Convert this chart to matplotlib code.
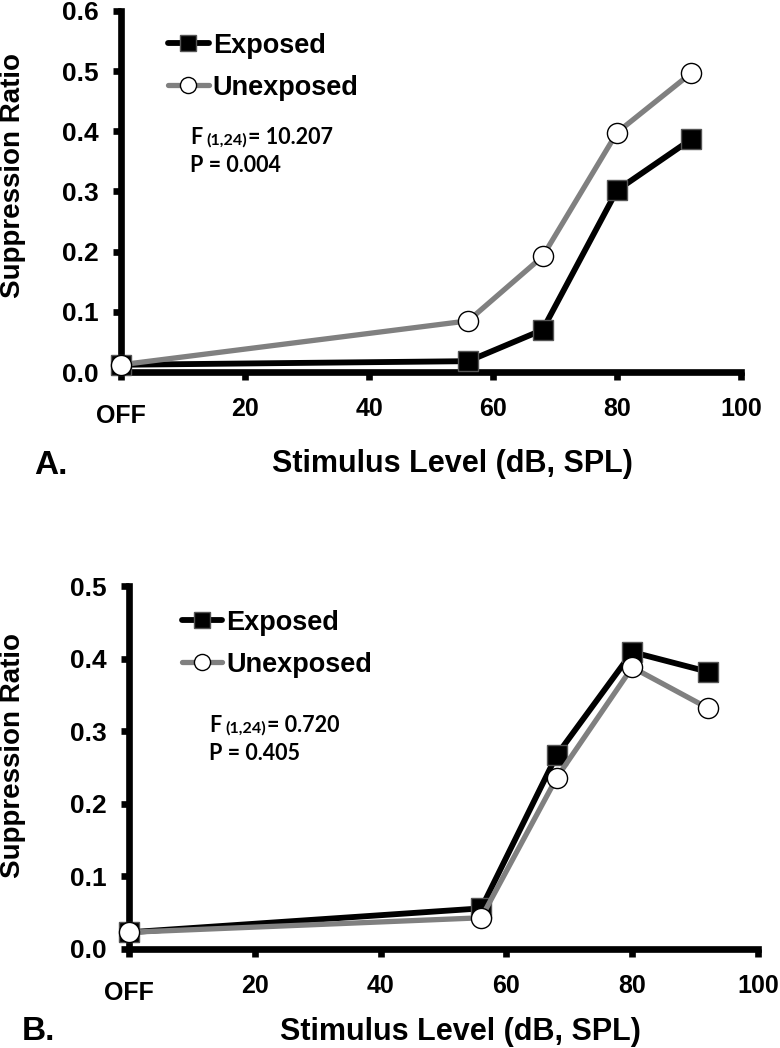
import matplotlib
matplotlib.use("Agg")
import matplotlib.pyplot as plt
from matplotlib.transforms import ScaledTranslation

# stimulus levels (dB SPL); 0 is the "OFF" condition
levels = [0, 56, 68, 80, 92]

a_exposed = [0.012, 0.018, 0.070, 0.302, 0.387]
a_unexposed = [0.012, 0.085, 0.192, 0.398, 0.497]
b_exposed = [0.023, 0.056, 0.267, 0.409, 0.382]
b_unexposed = [0.023, 0.043, 0.236, 0.388, 0.332]

x_ticks = [0, 20, 40, 60, 80, 100]
x_ticklabels = ["OFF", "20", "40", "60", "80", "100"]
a_yticks = [0.0, 0.1, 0.2, 0.3, 0.4, 0.5, 0.6]
b_yticks = [0.0, 0.1, 0.2, 0.3, 0.4, 0.5]

a_stats = ("F", "(1,24)", "= 10.207", "P = 0.004")
b_stats = ("F", "(1,24)", "= 0.720", "P = 0.405")

ARIAL = ["Liberation Sans", "DejaVu Sans"]
NARROW = ["Liberation Sans Narrow", "Liberation Sans", "DejaVu Sans"]
CALIBRI = ["Lato", "DejaVu Sans"]
GREY = "#808080"
SPINE = 4.8


def panel(ax, exposed, unexposed, yticks, stats, leg_anchor, stat_pos):
    ax.plot(levels, exposed, color="black", lw=4.2, marker="s", ms=14.5,
            mfc="black", mec="#555555", mew=1.0, clip_on=False, label="Exposed",
            zorder=3, solid_capstyle="round")
    ax.plot(levels, unexposed, color=GREY, lw=3.8, marker="o", ms=14.5,
            mfc="white", mec="black", mew=1.0, clip_on=False, label="Unexposed",
            zorder=4, solid_capstyle="round")

    ax.set_xlim(0, 100)
    ax.set_ylim(0, yticks[-1])
    for side in ("top", "right"):
        ax.spines[side].set_visible(False)
    for side in ("left", "bottom"):
        ax.spines[side].set_linewidth(SPINE)
        ax.spines[side].set_capstyle("projecting")
    ax.tick_params(direction="out", length=6, width=SPINE, color="black")
    ax.tick_params(axis="x", pad=12)
    ax.tick_params(axis="y", pad=10)

    ax.set_xticks(x_ticks)
    ax.set_xticklabels(x_ticklabels, family=NARROW, fontweight="bold", fontsize=18)
    ax.set_yticks(yticks)
    ax.set_yticklabels([f"{v:.1f}" for v in yticks], family=ARIAL,
                       fontweight="bold", fontsize=19)
    off = ax.get_xticklabels()[0]
    off.set_transform(off.get_transform()
                      + ScaledTranslation(0, -0.07, ax.figure.dpi_scale_trans))

    ax.legend(loc="upper left", bbox_to_anchor=leg_anchor, frameon=False,
              handlelength=1.5, handletextpad=0.15, borderpad=0,
              borderaxespad=0, markerscale=0.8, labelspacing=0.6,
              prop={"family": ARIAL, "weight": "bold", "size": 19.5})

    sx, sy1, sy2 = stat_pos
    t1 = ax.text(sx, sy1, stats[0], transform=ax.transAxes, fontsize=15.5,
                 fontweight="bold", family=CALIBRI, va="baseline")
    t2 = ax.annotate(stats[1], xy=(1, 0), xycoords=t1, xytext=(3, 0),
                     textcoords="offset points", fontsize=11.5,
                     fontweight="bold", family=CALIBRI, va="bottom")
    ax.annotate(stats[2], xy=(1, 0), xycoords=t2, xytext=(1, 0),
                textcoords="offset points", fontsize=15.5,
                fontweight="bold", family=CALIBRI, va="bottom")
    ax.text(sx, sy2, stats[3], transform=ax.transAxes, fontsize=15.5,
            fontweight="bold", family=CALIBRI, va="baseline")


fig = plt.figure(figsize=(7.8, 10.48), dpi=100)
ax_a = fig.add_axes([121 / 780, 1 - 372 / 1048, 620 / 780, 361 / 1048])
ax_b = fig.add_axes([129 / 780, 1 - 949 / 1048, 629 / 780, 363 / 1048])

panel(ax_a, a_exposed, a_unexposed, a_yticks, a_stats,
      (0.076, 0.94), (0.111, 0.632, 0.554))
panel(ax_b, b_exposed, b_unexposed, b_yticks, b_stats,
      (0.084, 0.935), (0.127, 0.598, 0.521))

ylab = dict(rotation=90, ha="center", va="center", family=ARIAL,
            fontweight="bold", fontsize=20)
fig.text(13 / 780, 1 - 175 / 1048, "Suppression Ratio", **ylab)
fig.text(13 / 780, 1 - 755 / 1048, "Suppression Ratio", **ylab)

xlab = dict(ha="center", va="center", family=NARROW, fontweight="bold",
            fontsize=22)
fig.text(452 / 780, 1 - 464 / 1048, "Stimulus Level (dB, SPL)", **xlab)
fig.text(460 / 780, 1 - 1032 / 1048, "Stimulus Level (dB, SPL)", **xlab)
fig.text(51 / 780, 1 - 466 / 1048, "A.", **dict(xlab, fontsize=24))
fig.text(38 / 780, 1 - 1032 / 1048, "B.", **dict(xlab, fontsize=24))

fig.savefig("out.png", dpi=100)
